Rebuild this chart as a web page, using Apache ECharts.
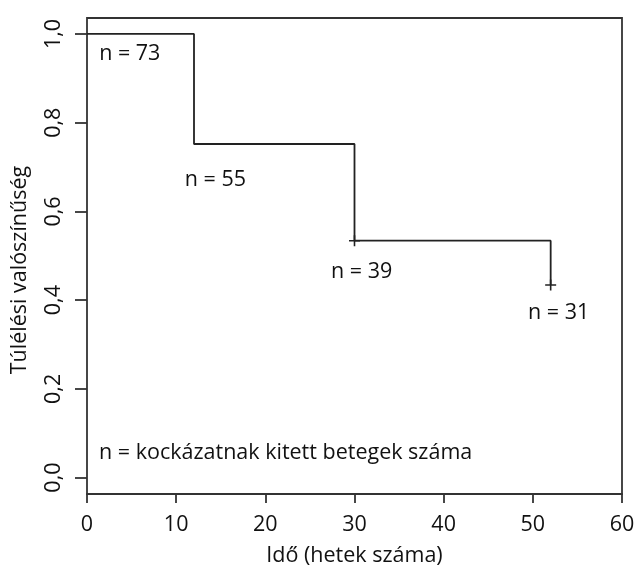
<!DOCTYPE html>
<html>
<head>
<meta charset="utf-8">
<script src="https://cdn.jsdelivr.net/npm/echarts@6/dist/echarts.min.js"></script>
<style>
  html, body { margin: 0; padding: 0; background: #fff; }
  #chart { width: 639px; height: 565px; }
</style>
</head>
<body>
<div id="chart"></div>
<script>
// survival curve (weeks, probability)
var weeks = [0, 12, 30, 52];
var survival = [1.0, 0.752, 0.534, 0.434];
// censored points
var censorWeeks = [30, 52];
var censorSurv = [0.534, 0.434];
// axis ticks
var xTicks = [0, 10, 20, 30, 40, 50, 60];
var yTicks = [0, 0.2, 0.4, 0.6, 0.8, 1.0];
// "n = ..." labels
var noteText = ['n = 73', 'n = 55', 'n = 39', 'n = 31'];
var noteX = [4.8, 14.4, 30.8, 52.9];
var noteY = [0.956, 0.672, 0.463, 0.372];
var footnote = 'n = kockázatnak kitett betegek száma';

var font = 'Open Sans';
var ink = '#222';
var txt = '#111';
var fs = 21.5;

var chart = echarts.init(document.getElementById('chart'));

var curve = weeks.map(function (w, i) { return [w, survival[i]]; });
var censored = censorWeeks.map(function (w, i) { return [w, censorSurv[i]]; });
var notes = noteText.map(function (t, i) { return {name: t, value: [noteX[i], noteY[i]]}; });

chart.setOption({
  animation: false,
  backgroundColor: '#fff',
  textStyle: {fontFamily: font},
  grid: {
    left: 87, right: 17, top: 18, bottom: 71,
    outerBoundsMode: 'none',
    show: true, borderColor: '#333', borderWidth: 1.8, backgroundColor: 'transparent'
  },
  xAxis: {
    type: 'value', min: 0, max: 60, interval: 10,
    axisLine: {show: true, onZero: false, lineStyle: {color: '#333', width: 1.8}},
    axisTick: {show: true, length: 9, lineStyle: {color: '#333', width: 1.8}},
    axisLabel: {fontSize: fs, color: txt, margin: 20, fontFamily: font},
    splitLine: {show: false},
    name: 'Idő (hetek száma)', nameLocation: 'middle', nameGap: 51,
    nameTextStyle: {fontSize: fs, color: txt, fontFamily: font}
  },
  yAxis: {
    type: 'value', min: -0.037, max: 1.036,
    axisLine: {show: false},
    axisTick: {show: true, length: 12, customValues: yTicks, lineStyle: {color: '#333', width: 1.8}},
    axisLabel: {
      fontSize: fs, color: txt, rotate: 90, margin: 22, fontFamily: font,
      customValues: yTicks,
      formatter: function (v) { return v.toFixed(1).replace('.', ','); }
    },
    splitLine: {show: false}
  },
  graphic: [{
    type: 'text', x: 20, y: 270, rotation: Math.PI / 2,
    style: {text: 'Túlélési valószínűség', fontSize: fs, fontFamily: font, fill: txt,
      align: 'center', verticalAlign: 'middle'}
  }],
  series: [{
    type: 'line', step: 'end', data: curve, showSymbol: false,
    lineStyle: {color: ink, width: 1.8}
  }, {
    type: 'scatter', data: censored,
    symbol: 'path://M0,5H10M5,0V10', symbolSize: 11,
    itemStyle: {color: 'none', borderColor: ink, borderWidth: 1.6, opacity: 1}
  }, {
    type: 'scatter', data: notes, symbolSize: 0, itemStyle: {opacity: 1},
    label: {show: true, position: 'inside', formatter: '{b}', fontSize: fs, color: txt, fontFamily: font}
  }, {
    type: 'scatter', data: [{name: footnote, value: [1.35, 0.055]}], symbolSize: 0, itemStyle: {opacity: 1},
    label: {show: true, position: 'right', distance: 0, formatter: '{b}', fontSize: fs, color: txt, fontFamily: font}
  }]
});
</script>
</body>
</html>
